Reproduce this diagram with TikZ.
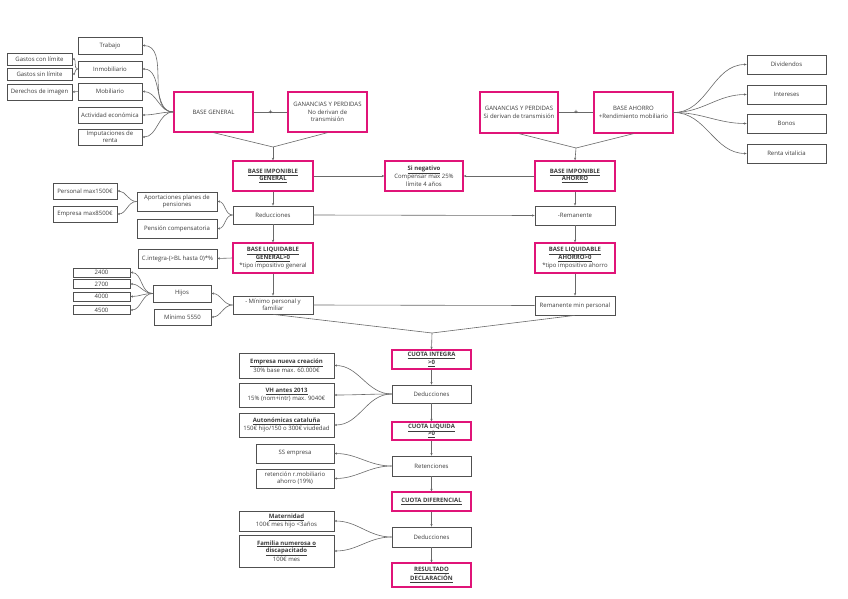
\documentclass[tikz,border=0pt]{standalone}
\usepackage{fontspec}
\setmainfont{Open Sans}
\usetikzlibrary{arrows.meta}
\definecolor{pinkc}{RGB}{224,20,120}
\definecolor{boxc}{RGB}{80,80,80}
\definecolor{linec}{RGB}{105,105,105}
\definecolor{txtc}{RGB}{60,60,60}
\newcommand{\hd}[1]{\textbf{\underline{#1}}}
\begin{document}
\begin{tikzpicture}[x=1pt,y=-1pt,
 font=\fontsize{6}{7}\selectfont, text=txtc,
 gbox/.style={draw=boxc, line width=0.7pt, align=center, inner sep=0.5pt},
 pbox/.style={draw=pinkc, line width=1.3pt, align=center, inner sep=0.5pt, font=\fontsize{6}{7.6}\selectfont},
 sz/.style 2 args={minimum width=#1pt, minimum height=#2pt},
 conn/.style={draw=linec, line width=0.6pt, -{Stealth[length=2.6pt,width=2.2pt]}},
 plain/.style={draw=linec, line width=0.6pt},
 plus/.style={font=\fontsize{7}{7}\selectfont, inner sep=0pt}]
\fill[white] (0,0) rectangle (848,599);
\path[use as bounding box] (0,0) rectangle (848,599);

% top left
\node[gbox, sz={64}{17}] (trab) at (110,45.5) {Trabajo};
\node[gbox, sz={64}{16}] (inmo) at (110,69) {Inmobiliario};
\node[gbox, sz={64}{17}] (mobi) at (110,91.5) {Mobiliario};
\node[gbox, sz={64}{16}] (acti) at (110,115) {Actividad económica};
\node[gbox, sz={64}{16}] (impu) at (110,137) {Imputaciones de\\renta};
\node[gbox, sz={65}{12}] (gcon) at (39.5,59) {Gastos con límite};
\node[gbox, sz={65}{12}] (gsin) at (39.5,74) {Gastos sin límite};
\node[gbox, sz={65}{16}] (dere) at (39.5,92) {Derechos de imagen};
\node[pbox, sz={79}{40}] (bgen) at (213.5,112) {BASE GENERAL};
\node[pbox, sz={79}{40}] (gpno) at (327.5,112) {GANANCIAS Y PERDIDAS\\No derivan de\\transmisión};

% top right
\node[pbox, sz={78}{41}] (gpsi) at (519,112.5) {GANANCIAS Y PERDIDAS\\Si derivan de transmisión};
\node[pbox, sz={79}{41}] (bahorro) at (633.5,112.5) {BASE AHORRO\\+Rendimiento mobiliario};
\node[gbox, sz={79}{19}] (divi) at (786.5,64.5) {Dividendos};
\node[gbox, sz={79}{19}] (inte) at (786.5,94.5) {Intereses};
\node[gbox, sz={79}{19}] (bono) at (786.5,123.5) {Bonos};
\node[gbox, sz={79}{19}] (rent) at (786.5,153.5) {Renta vitalicia};

% bases
\node[pbox, sz={80}{30}] (big) at (273,176) {\hd{BASE IMPONIBLE}\\\hd{GENERAL}};
\node[pbox, sz={78}{30}] (sineg) at (424,176) {\hd{Si negativo}\\Compensar max 25\%\\límite 4 años};
\node[pbox, sz={80}{30}] (bia) at (575,176) {\hd{BASE IMPONIBLE}\\\hd{AHORRO}};
\node[gbox, sz={80}{18}] (redu) at (273,215) {Reducciones};
\node[gbox, sz={80}{19}] (rema) at (575,215.5) {-Remanente};
\node[pbox, sz={80}{30}] (blg) at (273,258) {\hd{BASE LIQUIDABLE}\\\hd{GENERAL>0}\\*tipo impositivo general};
\node[pbox, sz={80}{30}] (bla) at (575,258) {\hd{BASE LIQUIDABLE}\\\hd{AHORRO>0}\\*tipo impositivo ahorro};
\node[gbox, sz={80}{18}] (minp) at (273,305) {- Mínimo personal y\\familiar};
\node[gbox, sz={80}{19}] (remm) at (575,305.5) {Remanente min personal};

% left of bases
\node[gbox, sz={80}{19}] (apor) at (177,201.5) {Aportaciones planes de\\pensiones};
\node[gbox, sz={80}{19}] (pens) at (177,228.5) {Pensión compensatoria};
\node[gbox, sz={64}{16}] (pers) at (85,191) {Personal max1500€};
\node[gbox, sz={64}{16}] (empr) at (85,214) {Empresa max8500€};
\node[gbox, sz={79}{19}] (cinte) at (177.5,258.5) {C.integra-(>BL hasta 0)*\%};
\node[gbox, sz={57}{9}, inner sep=0pt] (n2400) at (101.5,272.5) {2400};
\node[gbox, sz={57}{9}, inner sep=0pt] (n2700) at (101.5,284) {2700};
\node[gbox, sz={57}{9}, inner sep=0pt] (n4000) at (101.5,296.5) {4000};
\node[gbox, sz={57}{9}, inner sep=0pt] (n4500) at (101.5,310) {4500};
\node[gbox, sz={58}{17}] (hijos) at (182,293.5) {Hijos};
\node[gbox, sz={57}{16}] (m5550) at (182.5,317) {Mínimo 5550};

% cuotas
\node[pbox, sz={79}{19}] (cuoi) at (431.5,359.5) {\hd{CUOTA INTEGRA}\\\hd{>0}};
\node[gbox, sz={79}{18}] (ded1) at (431.5,394) {Deducciones};
\node[pbox, sz={79}{18}] (cliq) at (431.5,431) {\hd{CUOTA LIQUIDA}\\\hd{>0}};
\node[gbox, sz={79}{20}] (reten) at (431.5,466) {Retenciones};
\node[pbox, sz={79}{19}] (cdif) at (431.5,501.5) {\hd{CUOTA DIFERENCIAL}};
\node[gbox, sz={79}{20}] (ded2) at (431.5,537) {Deducciones};
\node[pbox, sz={79}{24}] (resu) at (431.5,575) {\hd{RESULTADO}\\\hd{DECLARACIÓN}};

\node[gbox, sz={95}{25}, font=\fontsize{6}{7.6}\selectfont] (enc) at (286.5,365.5) {\hd{Empresa nueva creación}\\30\% base max. 60.000€};
\node[gbox, sz={95}{24}, font=\fontsize{6}{7.6}\selectfont] (vh) at (286.5,395) {\hd{VH antes 2013}\\15\% (nom+intr) max. 9040€};
\node[gbox, sz={95}{24}, font=\fontsize{6}{7.6}\selectfont] (auto) at (286.5,425) {\hd{Autonómicas cataluña}\\150€ hijo/150 o 300€ viudedad};
\node[gbox, sz={78}{19}] (ssem) at (295,453.5) {SS empresa};
\node[gbox, sz={78}{19}] (retm) at (295,478.5) {retención r.mobiliario\\ahorro (19\%)};
\node[gbox, sz={95}{20}, font=\fontsize{6}{7.6}\selectfont] (mate) at (286.5,521) {\hd{Maternidad}\\100€ mes hijo <3años};
\node[gbox, sz={95}{32}, font=\fontsize{6}{7.6}\selectfont] (fami) at (286.5,551) {\hd{Familia numerosa o}\\\hd{discapacitado}\\100€ mes};

% merge points
\coordinate (m1) at (273,147);
\coordinate (m2) at (576,148);
\coordinate (m3) at (432,333);

% connectors top left
\foreach \t in {trab,inmo,mobi,acti,impu}
  \draw[conn] (bgen.west) to[out=180,in=0] (\t.east);
\draw[conn] (inmo.west) to[out=180,in=0] (gcon.east);
\draw[conn] (inmo.west) to[out=180,in=0] (gsin.east);
\draw[conn] (mobi.west) -- (dere.east);
\draw[plain] (bgen.east) -- node[plus]{+} (gpno.west);
\draw[plain] (gpsi.east) -- node[plus]{+} (bahorro.west);
\foreach \t in {divi,inte,bono,rent}
  \draw[conn] (bahorro.east) to[out=0,in=180] (\t.west);
\draw[plain] (bgen.south) -- (m1) -- (gpno.south);
\draw[conn] (m1) -- (big.north);
\draw[plain] (gpsi.south) -- (m2) -- (bahorro.south);
\draw[conn] (m2) -- (bia.north);

% middle
\draw[conn] (big.east) -- (sineg.west);
\draw[conn] (bia.west) -- (sineg.east);
\draw[conn] (big) -- (redu);
\draw[conn] (redu) -- (blg);
\draw[conn] (blg) -- (minp);
\draw[conn] (bia) -- (rema);
\draw[conn] (rema) -- (bla);
\draw[conn] (bla) -- (remm);
\draw[conn] (redu.east) -- (rema.west);
\draw[plain] (minp.east) -- (remm.west);
\draw[conn] (redu.west) to[out=180,in=0] (apor.east);
\draw[conn] (redu.west) to[out=180,in=0] (pens.east);
\draw[conn] (apor.west) to[out=180,in=0] (pers.east);
\draw[conn] (apor.west) to[out=180,in=0] (empr.east);
\draw[conn] (blg.west) -- (cinte.east);
\draw[conn] (minp.west) to[out=180,in=0] (hijos.east);
\draw[conn] (minp.west) to[out=180,in=0] (m5550.east);
\foreach \t in {n2400,n2700,n4000,n4500}
  \draw[conn] (hijos.west) to[out=180,in=0] (\t.east);
\draw[plain] (minp.south) -- (m3) -- (remm.south);
\draw[conn] (m3) -- (cuoi.north);

% bottom
\draw[conn] (cuoi) -- (ded1);
\draw[conn] (ded1) -- (cliq);
\draw[conn] (cliq) -- (reten);
\draw[conn] (reten) -- (cdif);
\draw[conn] (cdif) -- (ded2);
\draw[conn] (ded2) -- (resu);
\foreach \t in {enc,vh,auto}
  \draw[conn] (ded1.west) to[out=180,in=0] (\t.east);
\foreach \t in {ssem,retm}
  \draw[conn] (reten.west) to[out=180,in=0] (\t.east);
\foreach \t in {mate,fami}
  \draw[conn] (ded2.west) to[out=180,in=0] (\t.east);
\end{tikzpicture}
\end{document}
